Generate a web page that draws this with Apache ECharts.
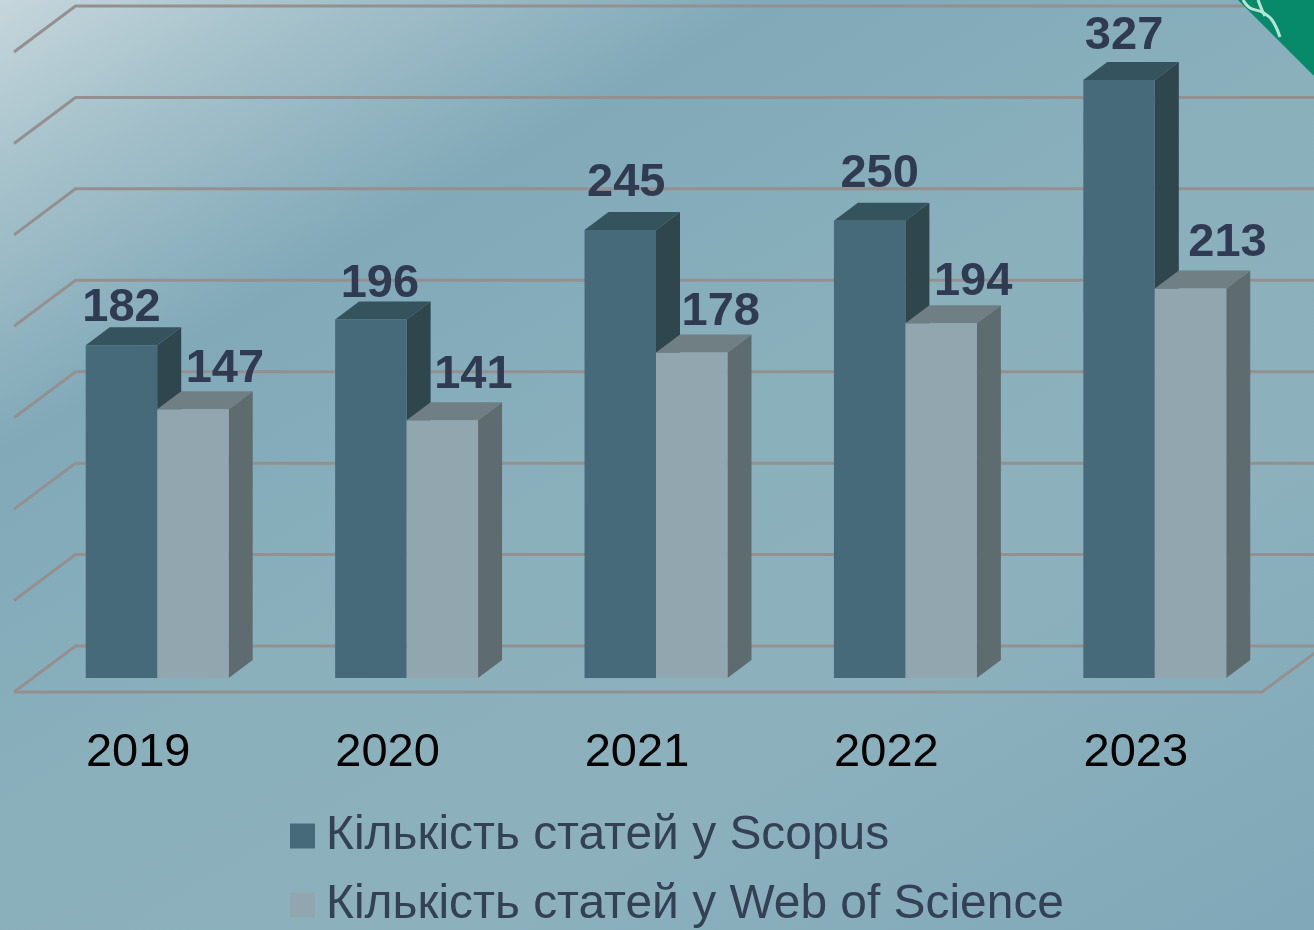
<!DOCTYPE html>
<html><head><meta charset="utf-8">
<style>html,body{margin:0;padding:0;overflow:hidden}#c{width:1314px;height:930px}</style>
<script src="https://cdn.jsdelivr.net/npm/echarts@6/dist/echarts.min.js"></script>
</head><body><div id="c"></div>
<script>
const years = ['2019','2020','2021','2022','2023'];
const scopus = [182,196,245,250,327];
const wos = [147,141,178,194,213];
const yTicks = [0,50,100,150,200,250,300,350];
const scopusName = 'Кількість статей у Scopus';
const wosName = 'Кількість статей у Web of Science';
// hand-placed label offsets of the original (pixels from the bar's front-top centre)
const scopusLabelDx = [0,9,6,10,5];
const scopusLabelDy = [-37,-36,-47,-47,-44];
const wosLabelDx = [32,31,29,32,37];
const wosLabelDy = [-40,-45,-40,-41,-45];

const font = '"Liberation Sans", Arial, sans-serif';
const textDark = '#303a50';
const DX = 24, DY = -18;

function barRender(side, cols, ldx, ldy) {
  return function (params, api) {
    const i = api.value(0), v = api.value(1);
    const top = api.coord([i, v]), base = api.coord([i, 0]);
    const w = api.size([1, 0])[0] * 0.2866;
    const x0 = side < 0 ? top[0] - w : top[0];
    const x1 = x0 + w, yt = top[1], yb = base[1];
    return {
      type: 'group',
      children: [
        { type: 'polygon', shape: { points: [[x1,yt],[x1+DX,yt+DY],[x1+DX,yb+DY],[x1,yb]] }, style: { fill: cols.side } },
        { type: 'polygon', shape: { points: [[x0,yt],[x0+DX,yt+DY],[x1+DX,yt+DY],[x1,yt]] }, style: { fill: cols.top } },
        { type: 'rect', shape: { x: x0, y: yt, width: w, height: yb - yt }, style: { fill: cols.front } },
        { type: 'text', style: {
            x: (x0 + x1) / 2 + ldx[i], y: yt + ldy[i], text: String(v),
            fill: textDark,
            font: 'bold 47px ' + font, textAlign: 'center', textVerticalAlign: 'middle' } }
      ]
    };
  };
}

function wallRender(params, api) {
  const v = api.value(0);
  const cs = params.coordSys;
  const p = api.coord([0, v]);
  const y = p[1];
  const L = cs.x - 18.5, B = cs.x + 43, R = cs.x + cs.width + 60;
  const ls = { stroke: '#94908f', lineWidth: 3, fill: null };
  const kids = [
    { type: 'polyline', shape: { points: [[L, y + 14], [B, y - 32], [R, y - 32]] }, style: ls }
  ];
  if (v === 0) {
    kids.push({ type: 'polyline', shape: { points: [[L, y + 14], [cs.x + cs.width - 17.5, y + 14], [cs.x + cs.width + 45, y - 32]] }, style: ls });
  }
  return { type: 'group', children: kids };
}

const legendBase = {
  orient: 'vertical', left: 285, itemWidth: 25, itemHeight: 25, icon: 'rect',
  textStyle: { color: '#344054', fontFamily: font, fontSize: 47.9, padding: [0, 0, 0, 6] }
};

const chart = echarts.init(document.getElementById('c'), null, { renderer: 'canvas', width: 1314, height: 930 });
chart.setOption({
  animation: false,
  backgroundColor: {
    type: 'linear', global: true, x: 0, y: 0, x2: 728, y2: 1253,
    colorStops: [
      { offset: 0, color: '#c6d6dc' },
      { offset: 0.1, color: '#a8c3cc' },
      { offset: 0.27, color: '#81a9b8' },
      { offset: 0.5, color: '#8ab0bc' },
      { offset: 0.72, color: '#8cb1bd' },
      { offset: 1, color: '#80a8b8' }
    ]
  },
  grid: { left: 32.5, right: 34.5, top: 38, height: 640 },
  xAxis: {
    type: 'category', data: years,
    axisLine: { show: false }, axisTick: { show: false },
    axisLabel: { color: '#000', fontFamily: font, fontSize: 47, margin: 52, padding: [0, 38, 0, 0] }
  },
  yAxis: { type: 'value', min: 0, max: 350, interval: 50, show: false, splitLine: { show: false } },
  legend: [
    Object.assign({}, legendBase, { top: 807, data: [scopusName] }),
    Object.assign({}, legendBase, { top: 876, data: [wosName] })
  ],
  graphic: [
    { type: 'polygon', silent: true, z: 50, shape: { points: [[1238,0],[1314,0],[1314,76]] }, style: { fill: '#078a6a' } },
    { type: 'polyline', silent: true, z: 51, shape: { points: [[1243,0],[1250,8],[1262,12],[1272,20],[1280,37]], smooth: 0.4 }, style: { stroke: '#b9e3d6', lineWidth: 3, fill: null } },
    { type: 'polyline', silent: true, z: 51, shape: { points: [[1258,0],[1262,10],[1265,16]], smooth: 0.4 }, style: { stroke: '#b9e3d6', lineWidth: 3, fill: null } }
  ],
  series: [
    { type: 'custom', name: 'wall', silent: true, z: 1, clip: false, renderItem: wallRender,
      encode: { y: 0 }, data: yTicks.map(v => [v]), coordinateSystem: 'cartesian2d' },
    { type: 'custom', name: scopusName, z: 3, clip: false, itemStyle: { color: '#476a7a' },
      renderItem: barRender(-1, { front: '#476a7a', top: '#35535c', side: '#2e464c' }, scopusLabelDx, scopusLabelDy),
      encode: { x: 0, y: 1 }, data: scopus.map((v, i) => [i, v]) },
    { type: 'custom', name: wosName, z: 4, clip: false, itemStyle: { color: '#91a6ae' },
      renderItem: barRender(1, { front: '#91a6ae', top: '#707f84', side: '#5e6c70' }, wosLabelDx, wosLabelDy),
      encode: { x: 0, y: 1 }, data: wos.map((v, i) => [i, v]) }
  ]
});
</script></body></html>
